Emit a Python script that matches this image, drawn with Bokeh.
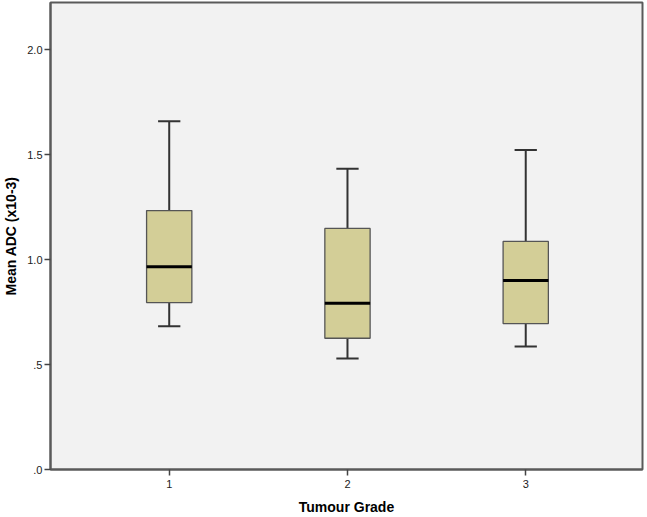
from bokeh.plotting import figure
from bokeh.models import FixedTicker, Range1d
from bokeh.embed import file_html
from bokeh.resources import INLINE

# Data (Mean ADC x10^-3 by tumour grade)
grades = [1, 2, 3]
lower_whisker = [0.682, 0.529, 0.586]
q1 = [0.795, 0.625, 0.695]
median = [0.965, 0.792, 0.900]
q3 = [1.233, 1.148, 1.086]
upper_whisker = [1.659, 1.432, 1.522]

y_ticks = [0.0, 0.5, 1.0, 1.5, 2.0]
y_tick_labels = [".0", ".5", "1.0", "1.5", "2.0"]
x_ticks = [1, 2, 3]

box_w = 0.254
cap_w = 0.125
FONT = "Liberation Sans"

p = figure(width=647, height=517, output_backend="svg", toolbar_location=None,
           x_range=Range1d(0.334, 3.655), y_range=Range1d(0.0, 2.224),
           min_border_left=47, min_border_right=5, min_border_top=2,
           min_border_bottom=48)

p.background_fill_color = "#F2F2F2"
p.border_fill_color = "white"
p.outline_line_color = "#5a5a5a"
p.outline_line_width = 2
p.xgrid.visible = False
p.ygrid.visible = False

# whiskers
p.segment(x0=grades, y0=q3, x1=grades, y1=upper_whisker, line_color="#333333", line_width=2)
p.segment(x0=grades, y0=q1, x1=grades, y1=lower_whisker, line_color="#333333", line_width=2)
# caps
p.segment(x0=[g - cap_w / 2 for g in grades], y0=upper_whisker,
          x1=[g + cap_w / 2 for g in grades], y1=upper_whisker,
          line_color="#333333", line_width=2)
p.segment(x0=[g - cap_w / 2 for g in grades], y0=lower_whisker,
          x1=[g + cap_w / 2 for g in grades], y1=lower_whisker,
          line_color="#333333", line_width=2)
# boxes
p.vbar(x=grades, bottom=q1, top=q3, width=box_w, fill_color="#D3CE97",
       line_color="#555555", line_width=1.3)
# medians
p.segment(x0=[g - box_w / 2 for g in grades], y0=median,
          x1=[g + box_w / 2 for g in grades], y1=median,
          line_color="black", line_width=3)

# axes
p.xaxis.ticker = FixedTicker(ticks=x_ticks)
p.yaxis.ticker = FixedTicker(ticks=y_ticks)
p.yaxis.major_label_overrides = {t: l for t, l in zip(y_ticks, y_tick_labels)}
p.xaxis.axis_label = "Tumour Grade"
p.yaxis.axis_label = "Mean ADC (x10-3)"
for ax in (p.xaxis[0], p.yaxis[0]):
    ax.axis_line_color = "#5a5a5a"
    ax.axis_line_width = 2
    ax.major_tick_line_color = "#444444"
    ax.major_tick_line_width = 1.5
    ax.major_tick_in = 0
    ax.major_tick_out = 6
    ax.minor_tick_line_color = None
    ax.major_label_text_font = FONT
    ax.major_label_text_font_size = "11px"
    ax.major_label_text_color = "#222222"
    ax.axis_label_text_font = FONT
    ax.axis_label_text_font_size = "14px"
    ax.axis_label_text_font_style = "bold"
    ax.axis_label_text_color = "black"
p.yaxis.major_label_standoff = 2
p.yaxis.axis_label_standoff = 5
p.xaxis.major_label_standoff = 4
p.xaxis.axis_label_standoff = 8

html = file_html(p, INLINE)
open("out.html", "w").write(html)
